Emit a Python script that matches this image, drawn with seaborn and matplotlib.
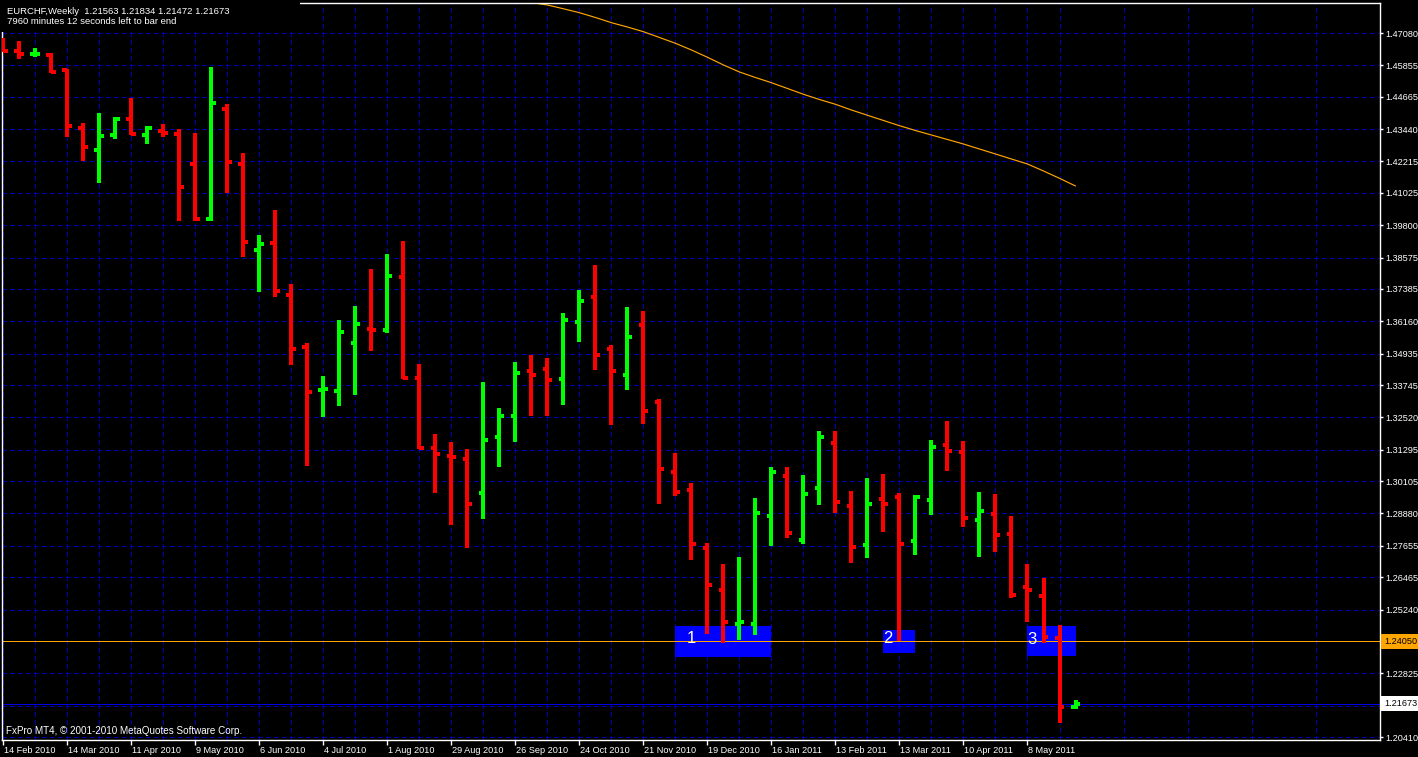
import numpy as np
import pandas as pd
import matplotlib
matplotlib.use("Agg")
import matplotlib.pyplot as plt
import matplotlib.transforms as mtransforms
from matplotlib.patches import Rectangle
import seaborn as sns

# ---------------- data (weekly EURCHF OHLC) ----------------
opens = [1.46815, 1.46410, 1.46266, 1.46247, 1.45678, 1.43482, 1.42648, 1.43216, 1.43822, 1.43216,
         1.43368, 1.43254, 1.42118, 1.40035, 1.44201, 1.42118, 1.38860, 1.39125, 1.37156, 1.35186,
         1.33557, 1.33519, 1.35338, 1.35868, 1.35830, 1.37838, 1.34012, 1.31360, 1.31057, 1.30944,
         1.29656, 1.31777, 1.32572, 1.34277, 1.34353, 1.33974, 1.36133, 1.37080, 1.35110, 1.34125,
         1.36019, 1.33103, 1.30451, 1.29769, 1.27572, 1.25982, 1.24694, 1.24694, 1.28785, 1.30300,
         1.27876, 1.29845, 1.31550, 1.29163, 1.27686, 1.29429, 1.29504, 1.27838, 1.29391, 1.31474,
         1.31209, 1.28633, 1.28860, 1.28103, 1.26095, 1.25754, 1.24163, 1.21563]
highs = [1.46891, 1.46777, 1.46512, 1.46322, 1.45716, 1.43671, 1.44050, 1.43898, 1.44618, 1.43557,
         1.43633, 1.43444, 1.43292, 1.45792, 1.44391, 1.42535, 1.39429, 1.40375, 1.37572, 1.35338,
         1.34088, 1.36209, 1.36739, 1.38141, 1.38709, 1.39201, 1.34542, 1.31891, 1.31588, 1.31322,
         1.33860, 1.32875, 1.34618, 1.34883, 1.34769, 1.36474, 1.37345, 1.38292, 1.35262, 1.36701,
         1.36550, 1.33216, 1.31171, 1.30035, 1.27762, 1.26966, 1.27232, 1.29466, 1.30641, 1.30641,
         1.30338, 1.32004, 1.32004, 1.29731, 1.30224, 1.30376, 1.29656, 1.29580, 1.31663, 1.32383,
         1.31625, 1.29694, 1.29618, 1.28785, 1.26966, 1.26436, 1.24656, 1.21834]
lows = [1.46360, 1.46095, 1.46171, 1.45565, 1.43141, 1.42232, 1.41398, 1.43065, 1.43216, 1.42875,
        1.43141, 1.39959, 1.39959, 1.39959, 1.41019, 1.38595, 1.37269, 1.37080, 1.34504, 1.30679,
        1.32535, 1.32951, 1.33368, 1.35035, 1.35716, 1.33974, 1.31322, 1.29656, 1.28444, 1.27572,
        1.28671, 1.30641, 1.31588, 1.32572, 1.32572, 1.32989, 1.35375, 1.34315, 1.32231, 1.33557,
        1.32269, 1.29239, 1.29542, 1.27118, 1.24315, 1.23974, 1.24088, 1.24277, 1.27648, 1.27951,
        1.27724, 1.29201, 1.28898, 1.27004, 1.27194, 1.28179, 1.24050, 1.27307, 1.28822, 1.30489,
        1.28368, 1.27232, 1.27421, 1.25679, 1.24769, 1.23974, 1.20944, 1.21472]
closes = [1.46398, 1.46273, 1.46296, 1.45614, 1.43557, 1.42762, 1.43179, 1.43822, 1.43254, 1.43482,
          1.43292, 1.41247, 1.40035, 1.44429, 1.42194, 1.39163, 1.39088, 1.37307, 1.35110, 1.33482,
          1.33595, 1.35754, 1.36057, 1.35830, 1.37876, 1.34012, 1.31360, 1.31133, 1.31019, 1.29239,
          1.31663, 1.32572, 1.34201, 1.34125, 1.33936, 1.36209, 1.36928, 1.34883, 1.34277, 1.35565,
          1.32762, 1.30565, 1.29694, 1.27724, 1.26171, 1.24769, 1.24769, 1.28898, 1.30451, 1.28141,
          1.29618, 1.31777, 1.29315, 1.27610, 1.29239, 1.29239, 1.27724, 1.29504, 1.31398, 1.31247,
          1.28709, 1.28974, 1.28065, 1.25792, 1.25982, 1.24201, 1.21550, 1.21673]

ma_first_bar = 33
ma_values = [1.48233, 1.48141, 1.47997, 1.47849, 1.47667, 1.47470, 1.47307, 1.47129, 1.46910, 1.46690,
             1.46436, 1.46160, 1.45868, 1.45603, 1.45394, 1.45197, 1.44978, 1.44758, 1.44561, 1.44379,
             1.44163, 1.43963, 1.43766, 1.43569, 1.43387, 1.43216, 1.43046, 1.42875, 1.42686, 1.42497,
             1.42307, 1.42118, 1.41853, 1.41576, 1.41285]

ytick_values = [1.47080, 1.45855, 1.44665, 1.43440, 1.42215, 1.41025, 1.39800, 1.38575, 1.37385, 1.36160,
                1.34935, 1.33745, 1.32520, 1.31295, 1.30105, 1.28880, 1.27655, 1.26465, 1.25240, 1.24050,
                1.22825, 1.21600, 1.20410]
ytick_labels = ["1.47080", "1.45855", "1.44665", "1.43440", "1.42215", "1.41025", "1.39800", "1.38575",
                "1.37385", "1.36160", "1.34935", "1.33745", "1.32520", "1.31295", "1.30105", "1.28880",
                "1.27655", "1.26465", "1.25240", "1.24050", "1.22825", "", "1.20410"]
xtick_labels = ["14 Feb 2010", "14 Mar 2010", "11 Apr 2010", "9 May 2010", "6 Jun 2010", "4 Jul 2010",
                "1 Aug 2010", "29 Aug 2010", "26 Sep 2010", "24 Oct 2010", "21 Nov 2010", "19 Dec 2010",
                "16 Jan 2011", "13 Feb 2011", "13 Mar 2011", "10 Apr 2011", "8 May 2011"]

level_price = 1.24050
bid_price = 1.21673
zone_start = [42, 55, 64]
zone_end = [48, 57, 67]
zone_low = [1.23444, 1.23595, 1.23482]
zone_high = [1.24617, 1.24466, 1.24617]
zone_names = ["1", "2", "3"]
zone_label_x = [42.7, 55.0, 64.0]
zone_label_y = [1.24140, 1.24150, 1.24120]

header1 = "EURCHF,Weekly  1.21563 1.21834 1.21472 1.21673"
header2 = "7960 minutes 12 seconds left to bar end"
footer = "FxPro MT4, \u00a9 2001-2010 MetaQuotes Software Corp."

# ---------------- style ----------------
sns.set_theme(style="dark", rc={"axes.facecolor": "black", "figure.facecolor": "black",
                                "axes.edgecolor": "white", "text.color": "white",
                                "xtick.color": "white", "ytick.color": "white"})
plt.rcParams["font.family"] = ["Liberation Sans", "DejaVu Sans"]

W, H = 1418, 757
fig = plt.figure(figsize=(W / 100, H / 100), dpi=100)
ax = fig.add_axes([2 / W, 17 / H, 1378 / W, 737 / H])
ax.set_facecolor("black")

FS = 6.6
idx = np.arange(len(opens))
o = np.array(opens); h = np.array(highs); l = np.array(lows); c = np.array(closes)
cols = np.where(c >= o, "#00FF00", "#FF0000")

grid_kw = dict(color="#0000B0", linestyle=(0, (5, 3)), linewidth=0.72, antialiased=False)
ax.set_axisbelow(True)

# zones
for xs, xe, lo, hi in zip(zone_start, zone_end, zone_low, zone_high):
    ax.add_patch(Rectangle((xs, lo), xe - xs, hi - lo, facecolor="#0000FF", edgecolor="none",
                           zorder=1.5, antialiased=False))

# horizontal levels
ax.axhline(level_price, color="#FFA500", lw=0.72, zorder=1.8, antialiased=False)
ax.axhline(bid_price, color="#0000E0", lw=0.72, zorder=1.8, antialiased=False)

# moving average
ma_df = pd.DataFrame({"bar": np.arange(ma_first_bar, ma_first_bar + len(ma_values)), "ma": ma_values})
sns.lineplot(data=ma_df, x="bar", y="ma", color="#FFA500", lw=0.85, ax=ax, zorder=2)

# OHLC bars
tick = 0.31
bar_lw = 1.45
ax.vlines(idx, l, h, colors=cols, lw=bar_lw, zorder=3, antialiased=False)
ax.hlines(o, idx - tick, idx, colors=cols, lw=bar_lw, zorder=3, antialiased=False)
ax.hlines(c, idx, idx + tick, colors=cols, lw=bar_lw, zorder=3, antialiased=False)

for name, xx, yy in zip(zone_names, zone_label_x, zone_label_y):
    ax.text(xx, yy, name, color="white", fontsize=12, ha="left", va="center", zorder=4)

# axes limits
ax.set_xlim(-0.09, 86.03)
ax.set_ylim(1.203002, 1.482164)
ax.set_xlabel("")
ax.set_ylabel("")

# x ticks
major = np.arange(0, 4 * len(xtick_labels), 4)
ax.set_xticks(major)
ax.set_xticklabels(xtick_labels, fontsize=FS)
ax.set_xticks(np.arange(2, 87, 4), minor=True)
ax.tick_params(axis="x", which="major", length=3.5, width=1, color="white", pad=1, bottom=True)
ax.tick_params(axis="x", which="minor", length=0)
off = mtransforms.ScaledTranslation(1 / 100, 0, fig.dpi_scale_trans)
for lab in ax.get_xticklabels():
    lab.set_horizontalalignment("left")
    lab.set_transform(lab.get_transform() + off)

# y ticks on right
ax.yaxis.tick_right()
ax.set_yticks(ytick_values)
ax.set_yticklabels(ytick_labels, fontsize=FS)
ax.tick_params(axis="y", which="major", length=2.5, width=1, color="white", pad=1.5,
               right=True, left=False)

ax.grid(True, which="both", axis="both", **grid_kw)
for s in ax.spines.values():
    s.set_color("white")
    s.set_linewidth(1.0)

# price labels on the axis
bt = mtransforms.blended_transform_factory(ax.transAxes, ax.transData)
bh = 7.5 / 2640
for price, fc in [(level_price, "#FFA500"), (bid_price, "white")]:
    ax.add_patch(Rectangle((1.0008, price - bh), 0.03, 2 * bh, transform=bt, facecolor=fc,
                           edgecolor="none", clip_on=False, zorder=5))
    ax.text(1.0032, price, f"{price:.5f}", transform=bt, color="black", fontsize=FS,
            ha="left", va="center", clip_on=False, zorder=6)

# header panel (black background over the chart corner)
fig.patches.append(Rectangle((0, 1 - 32 / H), 300 / W, 32 / H, transform=fig.transFigure,
                             facecolor="black", edgecolor="none", zorder=5))
fig.text(7 / W, 1 - 11 / H, header1, fontsize=6.8, color="white", va="center", ha="left", zorder=6)
fig.text(7 / W, 1 - 21 / H, header2, fontsize=6.8, color="white", va="center", ha="left", zorder=6)
fig.text(6 / W, 1 - 731 / H, footer, fontsize=7.1, color="white", va="center", ha="left", zorder=6)

fig.savefig("out.png", dpi=100, facecolor="black")
